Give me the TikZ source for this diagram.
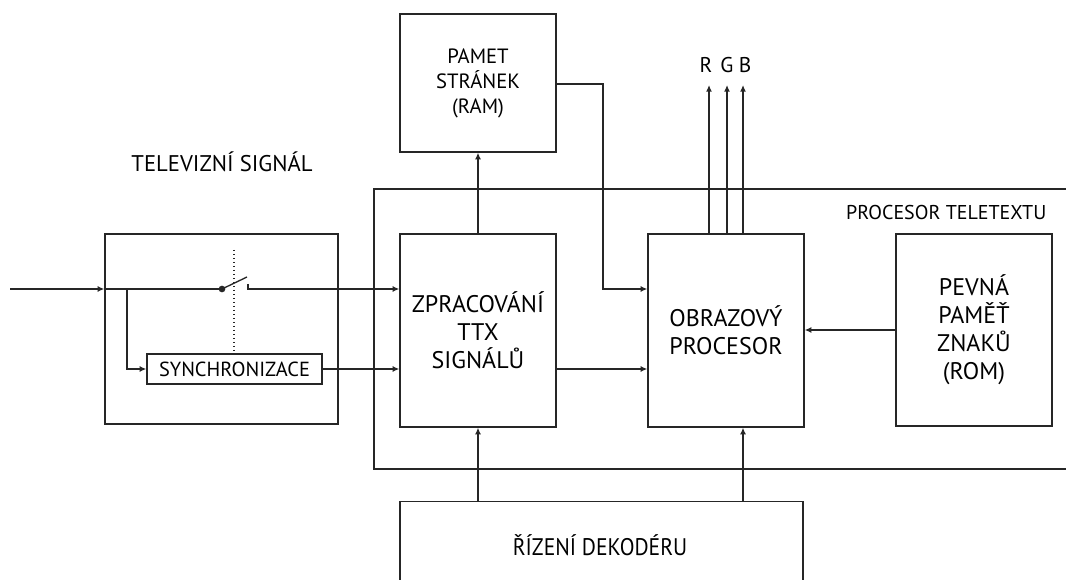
\documentclass[tikz,border=0pt]{standalone}
\usepackage{fontspec}
\setmainfont{PT Sans}
\newfontfamily\narrowfont[FakeStretch=0.9]{PT Sans}
\usetikzlibrary{arrows.meta,calc}
\tikzset{
  box/.style={draw=black!85, line width=1pt, rectangle, inner sep=0pt, align=center},
  arr/.style={draw=black!85, line width=1pt, -{Latex[length=5pt,width=4.5pt]}},
  ln/.style={draw=black!85, line width=1pt},
  big/.style={font=\fontsize{18pt}{21pt}\selectfont},
  mid/.style={font=\fontsize{15.5pt}{18.75pt}\selectfont},
  small/.style={font=\fontsize{15.3pt}{18pt}\selectfont},
}
\begin{document}
\begin{tikzpicture}[x=0.75pt,y=-0.75pt]
\useasboundingbox (0,0) rectangle (1066,580);
\clip (0,0) rectangle (1066,580);
% outer teletext processor frame
\draw[ln] (374,189) rectangle (1100,469);
\node[font=\fontsize{15pt}{18pt}\selectfont, anchor=east] (proclbl) at (1051,213) {PROCESOR TELETEXTU};
% blocks
\node[box, mid, minimum width=117pt, minimum height=103.5pt] (ram) at (478,83) {PAMET\\STRÁNEK\\(RAM)};
\node[box, big, minimum width=117pt, minimum height=144.75pt] (ttx) at (478,330.5) {ZPRACOVÁNÍ\\TTX\\SIGNÁLŮ};
\node[box, big, minimum width=117pt, minimum height=144.75pt] (obr) at (726,330.5) {OBRAZOVÝ\\PROCESOR};
\node[box, big, minimum width=117pt, minimum height=144pt] (rom) at (974,330) {PEVNÁ\\PAMĚŤ\\ZNAKŮ\\(ROM)};
\node[box, minimum width=174.75pt, minimum height=142.5pt] (inbox) at (221.5,329) {};
\node[box, small, minimum width=131.25pt, minimum height=22.5pt] (sync) at (234.5,369) {SYNCHRONIZACE};
\node[box, anchor=north, minimum width=302.25pt, minimum height=100pt] (ctrl) at (601.5,501) {};
\node[font=\narrowfont\fontsize{18pt}{20pt}\selectfont] (ctrltxt) at (600,545) {ŘÍZENÍ DEKODÉRU};
\node[font=\fontsize{17pt}{20pt}\selectfont] (tvlbl) at (222,162) {TELEVIZNÍ SIGNÁL};
% input and switch
\coordinate (inp) at (10,289);
\coordinate (br) at (127,289);
\node[circle, fill=black!85, inner sep=0pt, minimum size=5pt] (piv) at (222,289) {};
\coordinate (blade) at (247,277);
\coordinate (ctTop) at (248,284);
\coordinate (ct) at (248,289);
\coordinate (dotTop) at (234,250);
\draw[arr] (inp) -- (inp -| inbox.west);
\draw[ln] (inp -| inbox.west) -- (piv.center);
\draw[ln] (piv.center) -- (blade);
\draw[arr] (ctTop) -- (ct) -- (ct -| ttx.west);
\draw[ln, dotted, line width=1.1pt] (dotTop) -- (dotTop |- sync.north);
\draw[arr] (br) |- (sync.west);
\draw[arr] (sync.east) -- (sync.east -| ttx.west);
% processing connections
\draw[arr] (ttx.east |- sync.east) -- (obr.west |- sync.east);
\draw[arr] (ttx.north) -- (ram.south);
\coordinate (rA) at (603,84);
\coordinate (rB) at (603,289);
\draw[arr] (ram.east |- rA) -- (rA) -- (rB) -- (rB -| obr.west);
\draw[arr] (rom.west) -- (rom.west -| obr.east);
% RGB outputs
\coordinate (rT) at (709,85);
\coordinate (gT) at (727,85);
\coordinate (bT) at (743,85);
\draw[arr] (rT |- obr.north) -- (rT);
\draw[arr] (gT |- obr.north) -- (gT);
\draw[arr] (bT |- obr.north) -- (bT);
\node[font=\fontsize{16pt}{18pt}\selectfont] (rl) at (706,65) {R};
\node[font=\fontsize{16pt}{18pt}\selectfont] (gl) at (727,65) {G};
\node[font=\fontsize{16pt}{18pt}\selectfont] (bl) at (745,65) {B};
% decoder control
\coordinate (cO) at (743,0);
\draw[arr] (ttx.south |- ctrl.north) -- (ttx.south);
\draw[arr] (cO |- ctrl.north) -- (cO |- obr.south);
\end{tikzpicture}
\end{document}
